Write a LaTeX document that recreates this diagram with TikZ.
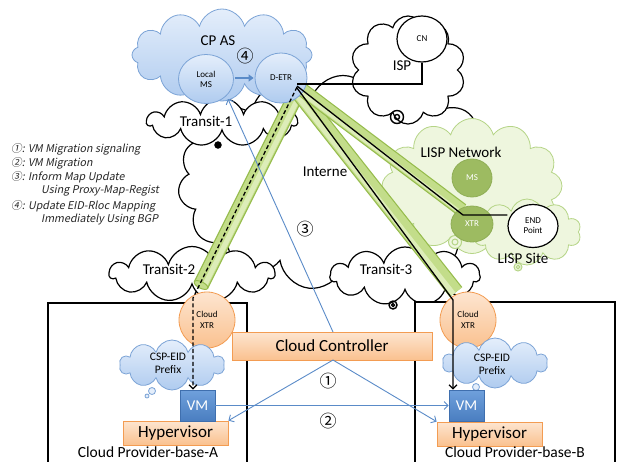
\documentclass[tikz,border=0pt]{standalone}
\usepackage{fontspec}
\setmainfont{Carlito}
\newfontfamily\jpfont{Noto Sans CJK JP}
\newfontfamily\legendfont[FakeSlant=0.2]{Noto Sans CJK JP}
\usetikzlibrary{shapes.symbols,shapes.geometric,arrows.meta,calc}

\definecolor{cpfillA}{HTML}{E4EEFB}
\definecolor{cpfillB}{HTML}{AFCBEF}
\definecolor{cpline}{HTML}{7BA3D6}
\definecolor{lispfill}{HTML}{EEF6DE}
\definecolor{lispline}{HTML}{B5D486}
\definecolor{lispdark}{HTML}{9DBB61}
\definecolor{lispdarkline}{HTML}{8FAE55}
\definecolor{barfill}{HTML}{C3DD8A}
\definecolor{barhi}{HTML}{DDEDB8}
\definecolor{barline}{HTML}{96BC4C}
\definecolor{orfillA}{HTML}{FDE5D0}
\definecolor{orfillB}{HTML}{FAC18F}
\definecolor{orline}{HTML}{F39C52}
\definecolor{vmA}{HTML}{6FA0DC}
\definecolor{vmB}{HTML}{4A7EC0}
\definecolor{vmline}{HTML}{3F6FAE}
\definecolor{linkblue}{HTML}{5A8BC8}

\tikzset{
  netcloud/.style={cloud, cloud ignores aspect, draw=black, line width=1.2pt,
    fill=white, inner sep=0pt},
  bluecloud/.style={cloud, cloud ignores aspect, draw=cpline, line width=0.8pt,
    top color=cpfillA, bottom color=cpfillB, inner sep=0pt},
  greencloud/.style={cloud, cloud ignores aspect, draw=lispline, line width=0.8pt,
    fill=lispfill, inner sep=0pt},
  bluedisc/.style={ellipse, draw=cpline, line width=0.8pt, top color=cpfillA,
    bottom color=cpfillB, inner sep=0pt, font=\fontsize{9}{10}\selectfont,
    align=center},
  greendisc/.style={ellipse, draw=lispdarkline, line width=0.8pt, fill=lispdark,
    inner sep=0pt, text=white, font=\fontsize{9}{10}\selectfont},
  whitedisc/.style={ellipse, draw=black, line width=1.2pt, fill=white,
    inner sep=0pt, font=\fontsize{9}{10}\selectfont, align=center},
  xtrdisc/.style={circle, draw=orline, line width=0.8pt, top color=orfillA,
    bottom color=orfillB, minimum size=56pt, inner sep=0pt,
    font=\fontsize{9}{11}\selectfont, align=center},
  orbox/.style={rectangle, draw=orline, line width=0.8pt, top color=orfillA,
    bottom color=orfillB, inner sep=0pt, font=\fontsize{17}{18}\selectfont},
  vmbox/.style={rectangle, draw=vmline, line width=0.6pt, top color=vmA,
    bottom color=vmB, minimum width=35pt, minimum height=31pt, inner sep=0pt,
    text=white, font=\fontsize{15}{16}\selectfont},
  provider/.style={draw=black, line width=1.3pt, fill=white},
  lbl/.style={font=\fontsize{15}{16}\selectfont, inner sep=0pt},
  num/.style={font=\jpfont\fontsize{17}{18}\selectfont, inner sep=0pt},
  legend/.style={font=\legendfont\fontsize{10.7}{12}\selectfont, anchor=west,
    inner sep=0pt, text=black!85},
  barout/.style={line width=16pt, draw=barline},
  barin/.style={line width=13.6pt, draw=barfill},
  barlight/.style={line width=5pt, draw=barhi},
  bluelink/.style={draw=linkblue, line width=0.9pt},
  blackpath/.style={draw=black, line width=1.3pt},
  tailring/.style={line width=1.4pt},
}

\begin{document}
\begin{tikzpicture}[x=1pt, y=-1pt]
\useasboundingbox (0,0) rectangle (617,461);

% --- Internet and its transit clouds
\node[netcloud, cloud puffs=15, minimum width=330, minimum height=215] (internet) at (343,183) {};
\node[netcloud, cloud puffs=11, minimum width=150, minimum height=48] (transit1) at (222,122) {};
\node[netcloud, cloud puffs=11, minimum width=165, minimum height=55] (transit2) at (192,274) {};
\node[netcloud, cloud puffs=11, minimum width=150, minimum height=58] (transit3) at (405,276) {};
\node[netcloud, cloud puffs=10, minimum width=115, minimum height=108] (isp) at (408,70) {};

% callout tails of the black clouds
\draw[tailring, fill=black] (218,145) circle (3);
\draw[tailring] (397,117) circle (6.5);
\draw[tailring] (397,117) circle (2.5);
\draw[tailring] (393,305) circle (4);
\draw[tailring] (393,305) circle (1.5);

% --- CP AS
\node[bluecloud, cloud puffs=12, minimum width=180, minimum height=92] (cpas) at (222,55) {};

% --- LISP network and site
\node[greencloud, cloud puffs=12, minimum width=180, minimum height=135] (lispnet) at (472,186) {};
\node[greencloud, cloud puffs=10, minimum width=108, minimum height=66] (lispsite) at (527,232) {};
\draw[lispline, line width=1pt, fill=lispfill] (455,242) circle (6.5);
\draw[lispline, line width=1pt] (455,242) circle (3);
\draw[lispline, line width=1pt, fill=lispfill] (518,267) circle (4);
\draw[lispline, line width=1pt] (518,267) circle (1.8);

% --- provider sites
\draw[provider] (48,303) rectangle (247,470);
\draw[provider] (415,302) rectangle (615,470);

% --- green tunnels from D-ETR
\draw[barout] (296,95) -- (201,285);
\draw[barin] (296,95) -- (201,285);
\draw[barlight] ($(296,95)+(3,1.5)$) -- ($(201,285)+(3,1.5)$);
\draw[barline, line width=1pt, fill=barfill, rotate around={153.4:(201,285)}]
  (201,285) ellipse [x radius=7.5, y radius=3.2];
\draw[barout] (298,92) -- (456,292);
\draw[barin] (298,92) -- (456,292);
\draw[barlight] ($(298,92)+(-2.5,2)$) -- ($(456,292)+(-2.5,2)$);
\draw[barout, line width=14pt] (300,88) -- (462,210);
\draw[barin, line width=11.6pt] (300,88) -- (462,210);
\draw[barlight, line width=4pt] ($(300,88)+(-1.5,2.5)$) -- ($(462,210)+(-1.5,2.5)$);

% --- nodes of the CP AS, ISP and LISP site
\node[bluedisc, minimum width=55, minimum height=49] (localms) at (206,79) {Local\\MS};
\node[bluedisc, minimum width=52, minimum height=50] (detr) at (281,78) {D-ETR};
\node[whitedisc, minimum width=50, minimum height=46] (cn) at (422,39) {CN};
\node[greendisc, minimum width=40, minimum height=38] (ms) at (472,178) {MS};
\node[greendisc, minimum width=42, minimum height=36] (xtr) at (472,224) {XTR};
\node[whitedisc, minimum width=50, minimum height=43] (endpt) at (533,226) {END\\Point};

% --- cloud provider contents
\node[xtrdisc] (cxtrA) at (207,320) {Cloud\\XTR};
\node[xtrdisc] (cxtrB) at (468,320) {Cloud\\XTR};
\node[bluecloud, cloud puffs=10, minimum width=105, minimum height=50] (eidA) at (172,365) {};
\node[bluecloud, cloud puffs=10, minimum width=105, minimum height=50] (eidB) at (495,363) {};
\draw[cpline, line width=0.8pt, fill=cpfillA] (152,391) circle (3.5);
\draw[cpline, line width=0.8pt, fill=cpfillA] (147,396) circle (2);
\draw[cpline, line width=0.8pt, fill=cpfillA] (476,387) circle (3.5);
\node[orbox, minimum width=200, minimum height=28] (ctrl) at (332,346) {Cloud Controller};
\node[orbox, minimum width=105, minimum height=24] (hypA) at (175.5,433) {Hypervisor};
\node[orbox, minimum width=105, minimum height=24] (hypB) at (489.5,434) {Hypervisor};
\node[vmbox] (vmA) at (197.5,405.5) {VM};
\node[vmbox] (vmB) at (466.5,405.5) {VM};

% --- mapping paths
\coordinate (ispbend) at (422,84);
\draw[blackpath] (detr.center) ++(16,6) -- (ispbend) -- (cn.south);
\coordinate (xtrbend) at (463,215);
\draw[blackpath] (detr.center) ++(16,8) -- (xtrbend) -- (endpt.west |- xtrbend);
\coordinate (bendB) at (453,300);
\draw[blackpath, -{Straight Barb[length=4pt,width=8pt]}] (detr.center) ++(16,10) -- (bendB) -- (bendB |- vmB.north);
\coordinate (bendA) at (193,298);
\draw[blackpath, dashed, dash pattern=on 4pt off 2.5pt, -{Straight Barb[length=4pt,width=8pt]}]
  (detr.center) ++(16,9) -- (bendA) -- (bendA |- vmA.north);

% --- control signalling
\draw[linkblue, line width=2pt, -{Triangle[length=5pt,width=7pt]}] (localms.east) ++(1,-1) -- ($(detr.west)+(-1,0)$);
\coordinate (ctrltop) at (333,332);
\coordinate (ctrlbot) at (333,360);
\draw[bluelink, -{Straight Barb[length=4pt,width=8pt]}] (ctrltop) -- (228,99);
\draw[bluelink, -{Straight Barb[length=4pt,width=8pt]}] (ctrlbot) -- (hypA.north east);
\draw[bluelink, -{Straight Barb[length=4pt,width=8pt]}] (ctrlbot) -- (hypB.north west);
\draw[bluelink, -{Straight Barb[length=4pt,width=8pt]}] (vmA.east) -- (vmB.west);

% --- labels
\node[lbl] at (218,41) {CP AS};
\node[num] at (245,56) {④};
\node[lbl] at (402,66) {ISP};
\node[lbl] at (206,121) {Transit-1};
\node[lbl] at (325,172) {Interne};
\node[num] at (305,229) {③};
\node[lbl] at (169,269) {Transit-2};
\node[lbl] at (386,269) {Transit-3};
\node[lbl] at (461,152) {LISP Network};
\node[lbl] at (523,258) {LISP Site};
\node[font=\fontsize{11.5}{13}\selectfont, align=center, inner sep=0pt] at (168,363) {CSP-EID\\Prefix};
\node[font=\fontsize{11.5}{13}\selectfont, align=center, inner sep=0pt] at (492,364) {CSP-EID\\Prefix};
\node[num] at (328,381) {①};
\node[num] at (328,421) {②};
\node[lbl, font=\fontsize{15.5}{16}\selectfont] at (148,452) {Cloud Provider-base-A};
\node[lbl, font=\fontsize{15.5}{16}\selectfont] at (515,452) {Cloud Provider-base-B};

% --- legend
\node[legend] at (11,149) {①: VM Migration signaling};
\node[legend] at (11,163) {②: VM Migration};
\node[legend] at (11,177) {③: Inform Map Update};
\node[legend] at (41,191) {Using Proxy-Map-Regist};
\node[legend] at (11,206) {④: Update EID-Rloc Mapping};
\node[legend] at (41,220) {Immediately Using BGP};
\end{tikzpicture}
\end{document}
